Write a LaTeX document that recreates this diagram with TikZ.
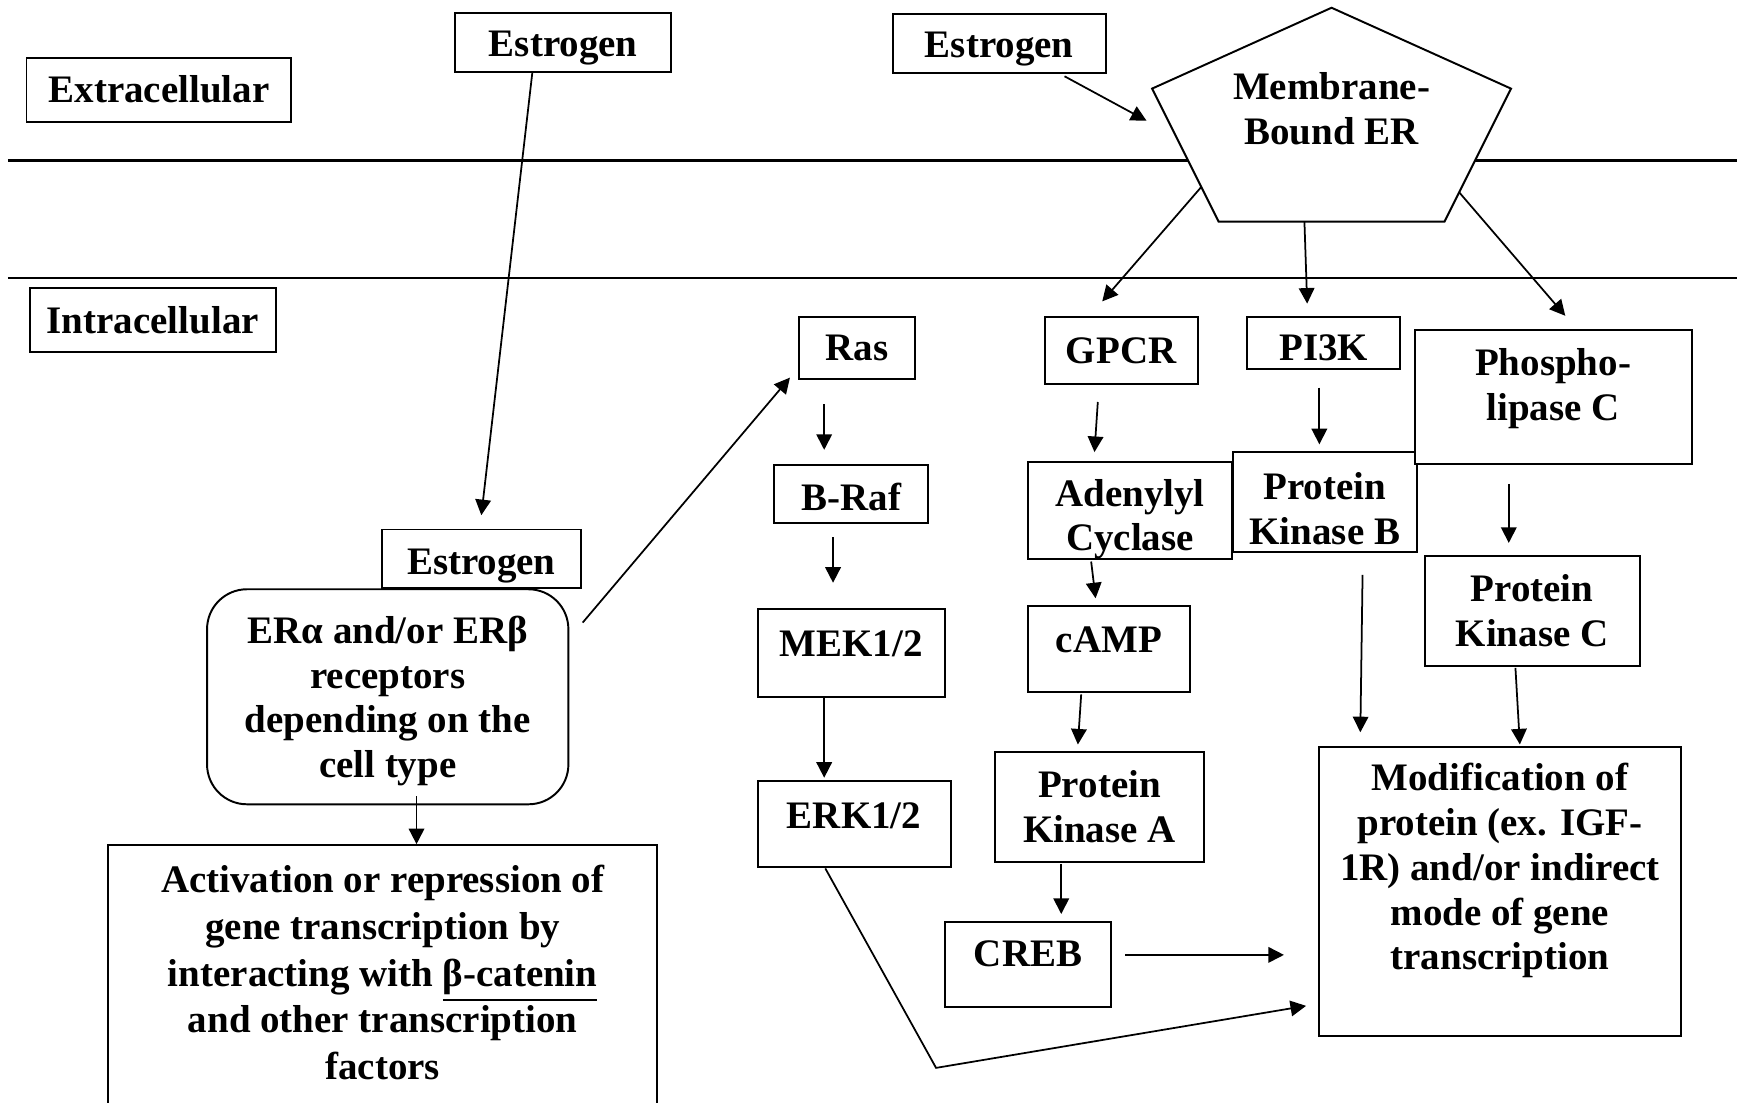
\documentclass[tikz,border=0pt]{standalone}
\usepackage{fontspec}
\setmainfont{Liberation Serif}
\usetikzlibrary{arrows.meta,calc}

\begin{document}
\begin{tikzpicture}[x=0.01cm, y=-0.01cm, line width=0.5pt,
    box/.style={draw, fill=white, align=center, inner sep=1pt,
      font=\fontsize{10}{11.5}\selectfont\bfseries},
    lift/.style={text depth=#1},
    sink/.style={text height=#1},
    arr/.style={-{Triangle[length=4pt,width=4pt]}, line width=0.45pt}]
  \useasboundingbox (0,0) rectangle (1568,995);
  % membrane
  \draw[line width=0.6pt] (7,145) -- (1568,145) (7,251) -- (1568,251);

  \node[box, minimum width=2.39cm, minimum height=0.58cm] (extra) at (143.5,81) {Extracellular};
  \node[box, minimum width=2.22cm, minimum height=0.58cm] (intra) at (138,289) {Intracellular};
  \node[box, lift=0pt, sink=7.3pt, minimum width=1.95cm, minimum height=0.53cm] (est1) at (508.5,38.5) {Estrogen};
  \node[box, lift=0pt, sink=7.3pt, minimum width=1.92cm, minimum height=0.53cm] (est2) at (902,39.5) {Estrogen};

  % membrane-bound receptor
  \coordinate (p1) at (1202,7);
  \coordinate (p2) at (1364,80);
  \coordinate (p3) at (1304,200);
  \coordinate (p4) at (1100,200);
  \coordinate (p5) at (1040,80);
  \draw[fill=white] (p1) -- (p2) -- (p3) -- (p4) -- (p5) -- cycle;
  \node[box, draw=none, fill=none] (mer) at (1202,98) {Membrane-\\Bound ER};

  % nuclear receptor branch
  \node[box, lift=0pt, sink=8pt, minimum width=1.79cm, minimum height=0.53cm] (est3) at (434.5,504.5) {Estrogen};
  \node[box, lift=0pt, rounded corners=0.36cm, minimum width=3.26cm, minimum height=1.94cm] (era) at (350,629)
    {ERα and/or ERβ\\receptors\\depending on the\\cell type};
  \node[box, font=\fontsize{10}{12}\selectfont\bfseries, lift=3pt, minimum width=4.95cm, minimum height=2.40cm] (act) at (345.5,883)
    {Activation or repression of\\gene transcription by\\interacting with \underline{β-catenin}\\and other transcription\\factors};

  % MAPK branch
  \node[box, minimum width=1.05cm, minimum height=0.56cm] (ras) at (773.5,314) {Ras};
  \node[box, sink=8.5pt, minimum width=1.39cm, minimum height=0.52cm] (braf) at (768.5,446) {B-Raf};
  \node[box, lift=5pt, minimum width=1.69cm, minimum height=0.79cm] (mek) at (768.5,589.5) {MEK1/2};
  \node[box, lift=4.6pt, minimum width=1.74cm, minimum height=0.78cm] (erk) at (771,744) {ERK1/2};

  % cAMP branch
  \node[box, minimum width=1.38cm, minimum height=0.61cm] (gpcr) at (1012,316.5) {GPCR};
  \node[box, lift=0pt, sink=20.7pt, minimum width=1.84cm, minimum height=0.88cm] (adcy) at (1020,461) {Adenylyl\\Cyclase};
  \node[box, lift=5pt, minimum width=1.46cm, minimum height=0.78cm] (camp) at (1001,586) {cAMP};
  \node[box, minimum width=1.89cm, minimum height=0.99cm] (pka) at (992.5,728.5) {Protein\\Kinase A};
  \node[box, lift=5.4pt, minimum width=1.50cm, minimum height=0.77cm] (creb) at (928,870.5) {CREB};

  % PI3K branch
  \node[box, sink=9.1pt, minimum width=1.38cm, minimum height=0.47cm] (pi3k) at (1195,309.5) {PI3K};
  \node[box, lift=0pt, sink=21.7pt, minimum width=1.66cm, minimum height=0.90cm] (pkb) at (1196,453) {Protein\\Kinase B};

  % PLC branch
  \node[box, lift=6.3pt, minimum width=2.50cm, minimum height=1.21cm] (plc) at (1402,358.5) {Phospho-\\lipase C};
  \node[box, minimum width=1.94cm, minimum height=0.99cm] (pkc) at (1383,551.5) {Protein\\Kinase C};

  \node[box, lift=12.6pt, minimum width=3.26cm, minimum height=2.61cm] (mod) at (1354,804.5)
    {Modification of\\protein (ex. IGF-\\1R) and/or indirect\\mode of gene\\transcription};

  \coordinate (kink) at (845,964);

  \draw[arr] ($(est1.south)+(-28,0)$) -- ($(est3.north)+(0,-12)$);
  \draw[arr] ($(est2.south)+(59,2)$) -- ($(p5)+(-5,29)$);
  \draw[arr] ($(p5)!0.74!(p4)$) -- ($(gpcr.north)+(-17,-13)$);
  \draw[arr] ($(p4)!0.38!(p3)$) -- ($(pi3k.north)+(-15,-11)$);
  \draw[arr] ($(p2)!0.78!(p3)$) -- ($(plc.north)+(11,-12)$);
  \draw[arr] ($(era.south)+(26,-8)$) -- ($(act.north)+(30.5,0)$);
  \draw[arr] ($(era.north east)+(12,31)$) -- ($(ras.south west)+(-7,-2)$);
  \draw[arr] ($(ras.south)+(-29.5,22)$) -- ($(braf.north)+(-24.5,-13)$);
  \draw[arr] ($(braf.south)+(-16.5,12)$) -- ($(mek.north)+(-16.5,-23)$);
  \draw[arr] ($(mek.south)+(-24.5,0)$) -- ($(erk.north)+(-27,-2)$);
  \draw[arr] ($(erk.south)+(-26,0)$) -- (kink) -- ($(mod.west)+(-11,103.5)$);
  \draw[arr] ($(gpcr.south)+(-21,15)$) -- ($(adcy.north)+(-32,-8)$);
  \draw[arr] ($(adcy.south)+(-35,1)$) -- ($(camp.north)+(-12,-6)$);
  \draw[arr] ($(camp.south)+(-25,1)$) -- ($(pka.north)+(-19.5,-6)$);
  \draw[arr] ($(pka.south)+(-34.5,1)$) -- ($(creb.north)+(30,-6)$);
  \draw[arr] ($(creb.east)+(12,-8.5)$) -- ($(mod.west)+(-31,57.5)$);
  \draw[arr] ($(pi3k.south)+(-4,16)$) -- ($(pkb.north)+(-5,-6)$);
  \draw[arr] ($(pkb.south)+(34,20)$) -- ($(mod.north)+(-126,-12)$);
  \draw[arr] ($(plc.south)+(-40,17)$) -- ($(pkc.north)+(-21,-11)$);
  \draw[arr] ($(pkc.south)+(-15,1)$) -- ($(mod.north)+(18,-1)$);
\end{tikzpicture}
\end{document}
